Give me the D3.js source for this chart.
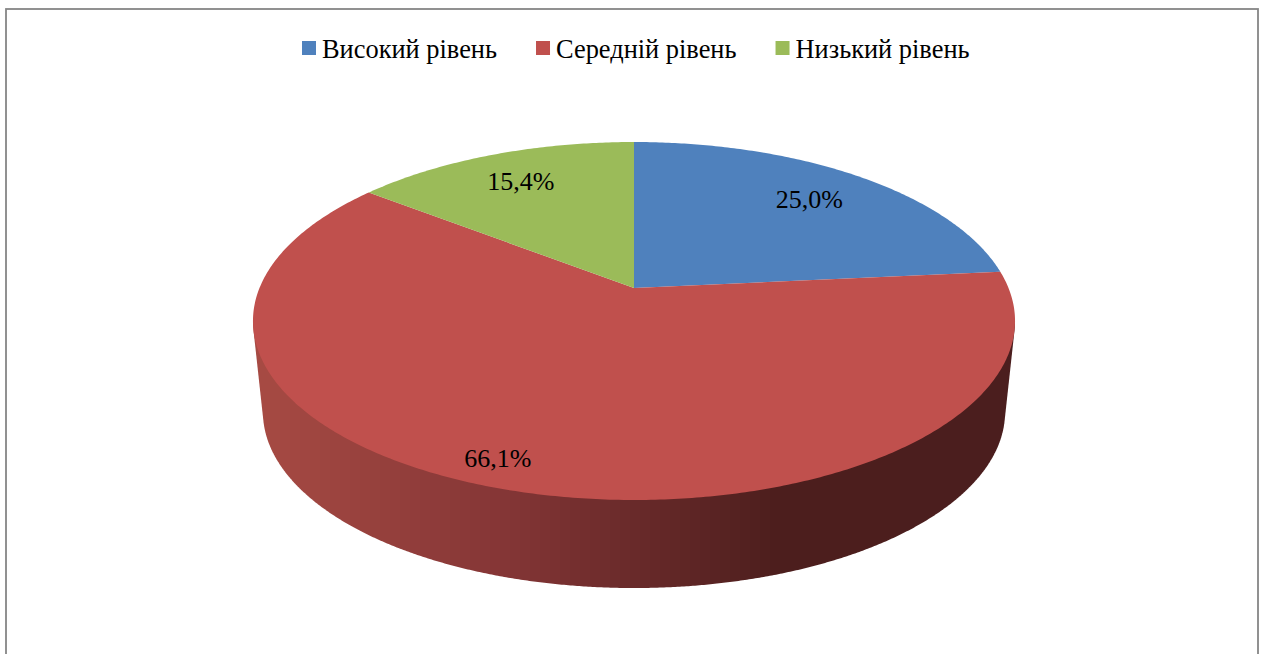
<!DOCTYPE html>
<html>
<head>
<meta charset="utf-8">
<script src="https://cdn.jsdelivr.net/npm/d3@7"></script>
<style>
  body { margin: 0; background: #fff; overflow: hidden; }
  text { font-family: "Liberation Serif", serif; fill: #000; }
</style>
</head>
<body>
<svg width="1262" height="654"></svg>
<script>
// Data
var categories = ["Високий рівень", "Середній рівень", "Низький рівень"];
var values = [25.0, 66.1, 15.4];
var valueLabels = ["25,0%", "66,1%", "15,4%"];
var colors = ["#4F81BD", "#C0504D", "#9BBB59"];

var svg = d3.select("svg");

// chart frame, runs off the bottom of the page
svg.append("rect")
  .attr("x", 6).attr("y", 9)
  .attr("width", 1252).attr("height", 670)
  .attr("fill", "#fff")
  .attr("stroke", "#868686")
  .attr("stroke-width", 1.8);

// The pie lies flat, so circles become ellipses with the centre pushed back
var persp = 0.1844;
var topDisc = {cx: 634, ax: 374.5, ay: -119.8, by: 288};
var baseDisc = {cx: 634, ax: 364.7, ay: -100, by: 379.6};

function project(disc, angle, r) {
  var u = r * Math.sin(angle), v = r * Math.cos(angle), w = 1 + persp * v;
  return [disc.cx + disc.ax * u / w, (disc.ay * v + disc.by) / w];
}

var pie = d3.pie().sort(null).startAngle(0).endAngle(2 * Math.PI);
var slices = pie(values);
var line = d3.line();

// Side wall: hull of the front rim and the base, filled with vertical bands
var wallColor = d3.scaleLinear()
  .domain([263, 500, 634, 780, 1015])
  .range(["#A64A43", "#853636", "#692A2A", "#4C1E1D", "#4B1E1E"])
  .clamp(true);
var bandWidth = 10;

var rimAngles = d3.range(Math.PI * 0.56, Math.PI * 1.44, 0.005);
var hull = d3.polygonHull(
  rimAngles.map(function (a) { return project(topDisc, a, 1); })
    .concat(rimAngles.map(function (a) { return project(baseDisc, a, 1); }))
);

svg.append("clipPath").attr("id", "wall")
  .append("path").attr("d", line(hull) + "Z");

svg.append("g").attr("clip-path", "url(#wall)")
  .selectAll("rect")
  .data(d3.range(250, 1020, bandWidth))
  .enter().append("rect")
  .attr("x", function (x) { return x; })
  .attr("y", 300)
  .attr("width", bandWidth)
  .attr("height", 300)
  .attr("fill", function (x) { return wallColor(x + bandWidth / 2); });

// Top of the pie
svg.append("g").selectAll("path")
  .data(slices)
  .enter().append("path")
  .attr("d", function (d) {
    var n = Math.ceil((d.endAngle - d.startAngle) / 0.01);
    var pts = d3.range(n + 1).map(function (i) {
      return project(topDisc, d.startAngle + (d.endAngle - d.startAngle) * i / n, 1);
    });
    return line([project(topDisc, 0, 0)].concat(pts)) + "Z";
  })
  .attr("fill", function (d, i) { return colors[i]; });

// Value labels: distance along the slice middle, red one is moved aside
var labelRadius = [0.77, 0.867, 0.777];
var labelShift = [0, -29, 0];

svg.append("g").selectAll("text")
  .data(slices)
  .enter().append("text")
  .attr("x", function (d, i) { return project(topDisc, (d.startAngle + d.endAngle) / 2, labelRadius[i])[0] + labelShift[i]; })
  .attr("y", function (d, i) { return project(topDisc, (d.startAngle + d.endAngle) / 2, labelRadius[i])[1] + 9; })
  .attr("text-anchor", "middle")
  .attr("font-size", 26)
  .text(function (d, i) { return valueLabels[i]; });

// Legend
var legendX = 302;
var legend = svg.append("g");
categories.forEach(function (name, i) {
  legend.append("rect")
    .attr("x", legendX).attr("y", 41)
    .attr("width", 14).attr("height", 14)
    .attr("fill", colors[i]);
  var label = legend.append("text")
    .attr("x", legendX + 20).attr("y", 58)
    .attr("font-size", 26.4)
    .text(name);
  legendX += 20 + label.node().getComputedTextLength() + 39;
});
</script>
</body>
</html>
